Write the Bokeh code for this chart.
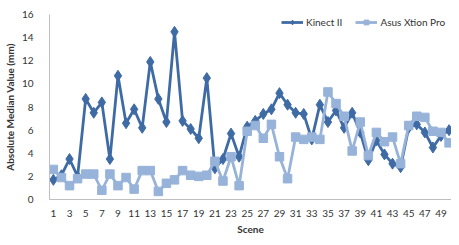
from bokeh.plotting import figure
from bokeh.models import FixedTicker, Legend, LegendItem, ColumnDataSource
from bokeh.embed import file_html
from bokeh.resources import INLINE

scenes = list(range(1, 51))
kinect = [1.7, 2.1, 3.5, 2.0, 8.7, 7.5, 8.4, 3.5, 10.7, 6.6,
          7.8, 6.2, 11.9, 8.7, 6.7, 14.5, 6.8, 6.1, 5.3, 10.5,
          2.7, 3.5, 5.7, 3.7, 6.3, 6.8, 7.4, 7.8, 9.2, 8.2,
          7.5, 7.4, 5.2, 8.2, 6.7, 7.7, 6.2, 7.5, 5.8, 3.4,
          5.1, 3.9, 3.1, 2.8, 6.2, 6.5, 5.8, 4.5, 5.5, 6.0]
asus = [2.6, 1.9, 1.2, 1.8, 2.2, 2.2, 0.8, 2.2, 1.2, 1.9,
        0.9, 2.5, 2.5, 0.7, 1.4, 1.7, 2.5, 2.1, 2.0, 2.1,
        3.3, 1.6, 3.7, 1.2, 5.9, 6.4, 5.3, 6.5, 3.7, 1.8,
        5.4, 5.2, 5.4, 5.2, 9.3, 8.3, 7.2, 4.2, 6.7, 3.8,
        5.8, 5.0, 5.4, 3.1, 6.4, 7.2, 7.1, 5.9, 5.8, 4.9]
x_ticks = list(range(1, 50, 2))
y_ticks = list(range(0, 17, 2))

FONT = "Lato"
DARK = "#3F6BA5"
LIGHT = "#97B3D9"
TXT = "#333333"

src = ColumnDataSource(dict(x=scenes, k=kinect, a=asus))

p = figure(width=451, height=237, output_backend="svg", toolbar_location=None,
           x_range=(0.52, 50.3), y_range=(0, 16),
           min_border_left=45, min_border_right=0, min_border_top=14, min_border_bottom=33)
p.xgrid.visible = False
p.ygrid.visible = False
p.outline_line_color = None
p.background_fill_color = "white"
p.border_fill_color = "white"

kl = p.line("x", "k", source=src, line_color=DARK, line_width=2.8)
km = p.scatter("x", "k", source=src, marker="diamond", size=11, fill_color=DARK, line_color=DARK)
al = p.line("x", "a", source=src, line_color=LIGHT, line_width=2.8)
am = p.scatter("x", "a", source=src, marker="square", size=8.5, fill_color=LIGHT, line_color=LIGHT)

for ax in (p.xaxis[0], p.yaxis[0]):
    ax.axis_line_color = "#BFBFBF"
    ax.axis_line_width = 1
    ax.major_tick_line_color = None
    ax.minor_tick_line_color = None
    ax.major_label_text_font = FONT
    ax.major_label_text_font_size = "10px"
    ax.major_label_text_color = TXT
    ax.axis_label_text_font = FONT
    ax.axis_label_text_font_size = "10px"
    ax.axis_label_text_font_style = "bold"
    ax.axis_label_text_color = TXT

p.xaxis.ticker = FixedTicker(ticks=x_ticks)
p.yaxis.ticker = FixedTicker(ticks=y_ticks)
p.xaxis.axis_label = "Scene"
p.yaxis.axis_label = "Absolute Median Value (mm)"
p.xaxis.major_label_standoff = 4
p.xaxis.axis_label_standoff = 3
p.yaxis.major_label_standoff = 10
p.yaxis.axis_label_standoff = 3

legend = Legend(items=[LegendItem(label="Kinect II", renderers=[kl, km]),
                       LegendItem(label="Asus Xtion Pro", renderers=[al, am])],
                orientation="horizontal", location=(232, 171),
                background_fill_alpha=0, border_line_color=None,
                padding=0, margin=0, spacing=13, glyph_width=22, glyph_height=12,
                label_height=12, label_standoff=3,
                label_text_font=FONT, label_text_font_size="10px", label_text_color=TXT)
p.add_layout(legend)

open("out.html", "w").write(file_html(p, INLINE))
